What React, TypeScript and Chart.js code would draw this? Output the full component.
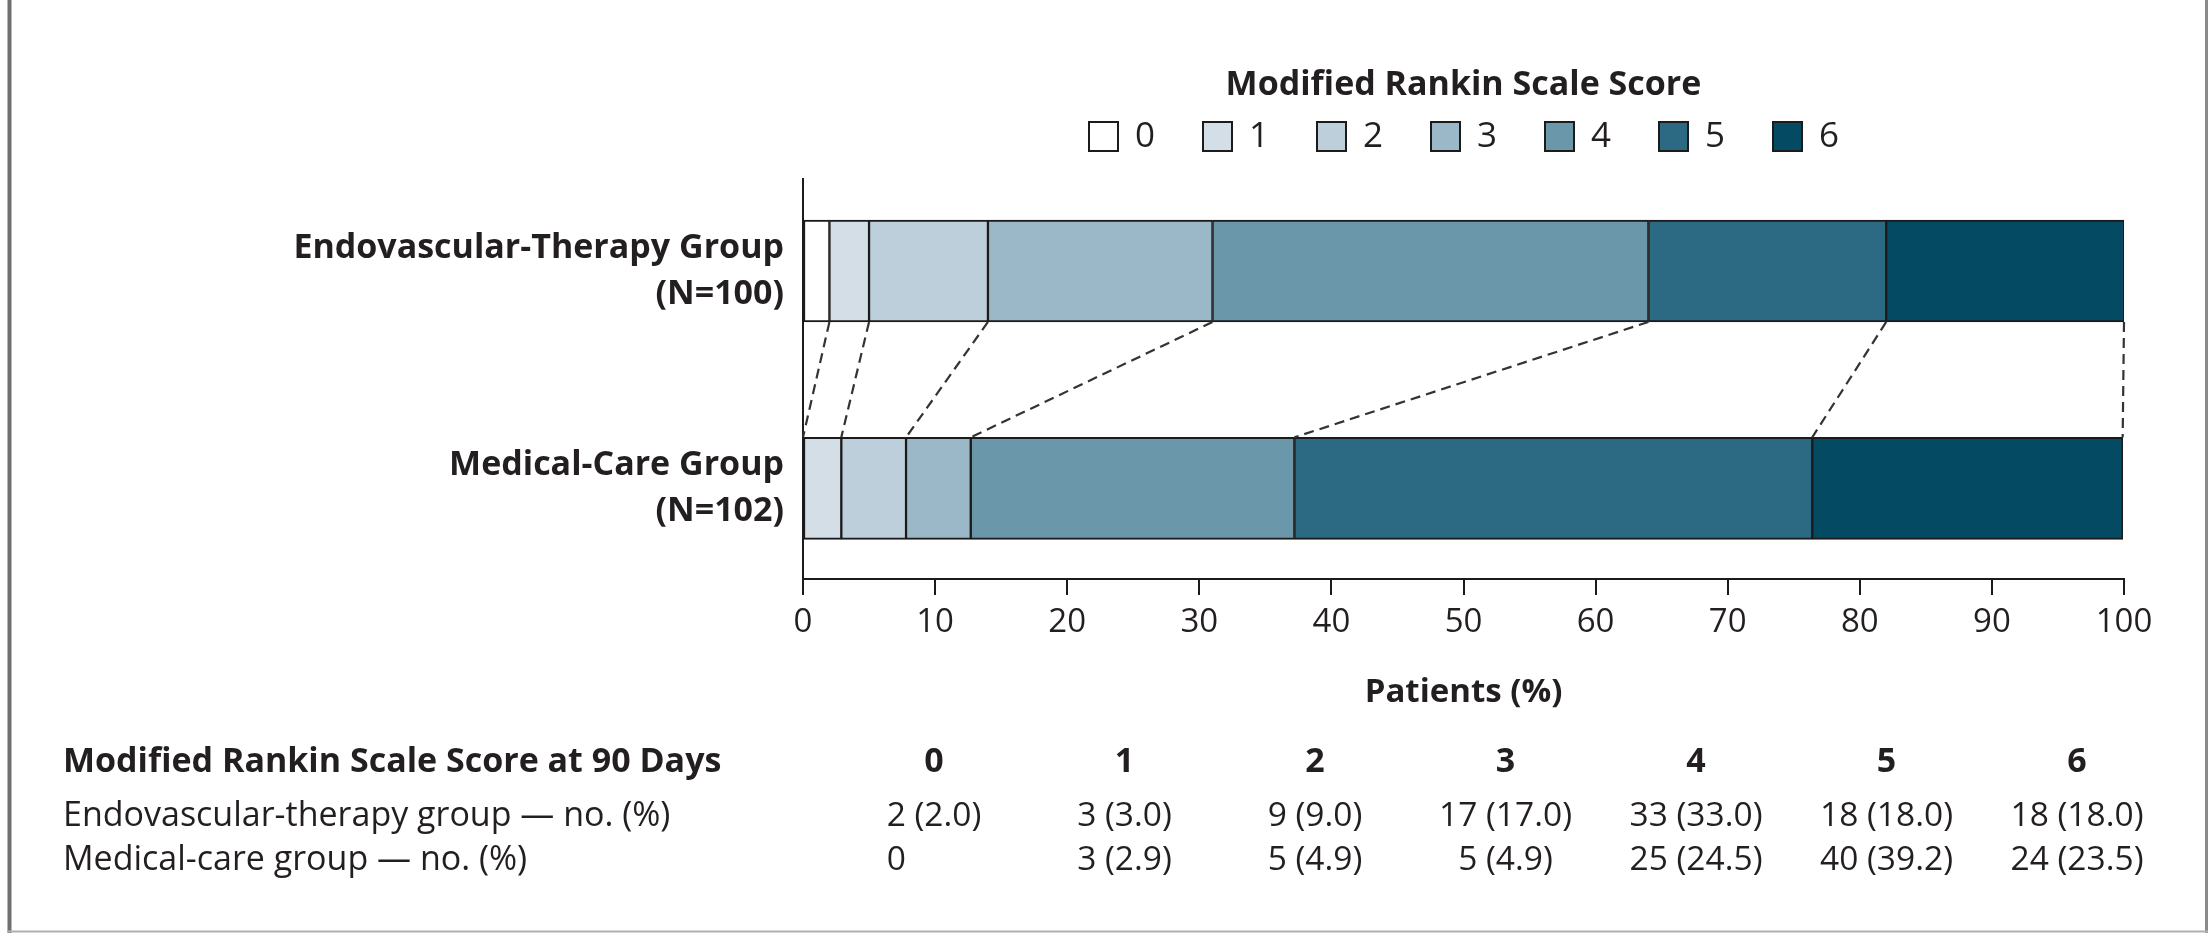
import React, { useEffect, useRef } from 'react';
import { Chart, registerables } from 'chart.js';

Chart.register(...registerables);

// ---------- data ----------
const scoreLabels = ['0', '1', '2', '3', '4', '5', '6'];
const groupLabels = [
  ['Endovascular-Therapy Group', '(N=100)'],
  ['Medical-Care Group', '(N=102)'],
];
const endoCounts = [2, 3, 9, 17, 33, 18, 18];
const endoPct = [2.0, 3.0, 9.0, 17.0, 33.0, 18.0, 18.0];
const medCounts = [0, 3, 5, 5, 25, 40, 24];
const medPct = [0, 2.9, 4.9, 4.9, 24.5, 39.2, 23.5];
const xTickValues = [0, 10, 20, 30, 40, 50, 60, 70, 80, 90, 100];
const tableRowLabels = ['Endovascular-therapy group \u2014 no. (%)', 'Medical-care group \u2014 no. (%)'];
const tableHeader = 'Modified Rankin Scale Score at 90 Days';
const legendTitle = 'Modified Rankin Scale Score';
const xAxisTitle = 'Patients (%)';

// ---------- style ----------
const colors = ['#ffffff', '#d3dee6', '#bccfdb', '#9bb8c9', '#6a97aa', '#2b6a82', '#044a62'];
const FONT = "'Open Sans', 'Noto Sans', sans-serif";
const TEXT = '#231f20';
const LINE = '#1b1b1b';
const Y_MIN = -0.423;
const Y_MAX = 1.417;

const fmtCell = (n: number, p: number) => (n === 0 ? '0' : `${n} (${p.toFixed(1)})`);

const overlayPlugin = {
  id: 'overlay',
  beforeDraw(chart: any) {
    const ctx = chart.ctx;
    ctx.save();
    ctx.fillStyle = '#ffffff';
    ctx.fillRect(0, 0, chart.width, chart.height);
    ctx.restore();
  },
  afterDatasetsDraw(chart: any) {
    const ctx = chart.ctx;
    const xs = chart.scales.x;
    const meta0 = chart.getDatasetMeta(0);
    const topBar = meta0.data[0];
    const botBar = meta0.data[1];
    const y1 = topBar.y + topBar.height / 2;
    const y2 = botBar.y - botBar.height / 2;
    let cTop = 0;
    let cBot = 0;
    ctx.save();
    ctx.strokeStyle = '#333333';
    ctx.lineWidth = 2.2;
    ctx.setLineDash([10, 6]);
    for (let k = 0; k < endoPct.length; k++) {
      cTop += endoPct[k];
      cBot += medPct[k];
      ctx.beginPath();
      ctx.moveTo(xs.getPixelForValue(cTop), y1);
      ctx.lineTo(xs.getPixelForValue(cBot), y2);
      ctx.stroke();
    }
    ctx.restore();
  },
  afterDraw(chart: any) {
    const ctx = chart.ctx;
    const ca = chart.chartArea;
    ctx.save();
    // frame
    ctx.strokeStyle = '#707070';
    ctx.lineWidth = 4;
    ctx.beginPath();
    ctx.moveTo(9.5, 0);
    ctx.lineTo(9.5, 933);
    ctx.stroke();
    ctx.strokeStyle = '#8a8a8a';
    ctx.lineWidth = 3;
    ctx.beginPath();
    ctx.moveTo(2206.5, 0);
    ctx.lineTo(2206.5, 933);
    ctx.stroke();
    ctx.strokeStyle = '#b0b0b0';
    ctx.lineWidth = 2;
    ctx.beginPath();
    ctx.moveTo(8, 931.5);
    ctx.lineTo(2208, 931.5);
    ctx.stroke();

    // legend
    const cx = (ca.left + ca.right) / 2;
    ctx.fillStyle = TEXT;
    ctx.textBaseline = 'alphabetic';
    ctx.textAlign = 'center';
    ctx.font = `bold 34px ${FONT}`;
    ctx.fillText(legendTitle, cx, 95);
    const pitch = 114;
    const box = 31;
    const gap = 16;
    ctx.font = `35px ${FONT}`;
    const lastW = ctx.measureText(scoreLabels[scoreLabels.length - 1]).width;
    const totalW = (scoreLabels.length - 1) * pitch + box + gap + lastW;
    const x0 = cx - totalW / 2;
    for (let k = 0; k < scoreLabels.length; k++) {
      const bx = Math.round(x0 + k * pitch);
      ctx.fillStyle = colors[k];
      ctx.fillRect(bx, 121, box, box);
      ctx.strokeStyle = LINE;
      ctx.lineWidth = 2;
      ctx.strokeRect(bx + 1, 122, box - 2, box - 2);
      ctx.fillStyle = TEXT;
      ctx.textAlign = 'left';
      ctx.fillText(scoreLabels[k], bx + box + gap, 147);
    }

    // table
    const colStart = 934;
    const colStep = 190.5;
    const labelX = 63;
    ctx.fillStyle = TEXT;
    ctx.font = `bold 34px ${FONT}`;
    ctx.textAlign = 'left';
    ctx.fillText(tableHeader, labelX, 772);
    ctx.textAlign = 'center';
    for (let k = 0; k < scoreLabels.length; k++) {
      ctx.fillText(scoreLabels[k], colStart + k * colStep, 772);
    }
    const rows = [
      endoCounts.map((n, i) => fmtCell(n, endoPct[i])),
      medCounts.map((n, i) => fmtCell(n, medPct[i])),
    ];
    const rowY = [826, 870];
    rows.forEach((cells, r) => {
      ctx.font = `34px ${FONT}`;
      ctx.textAlign = 'left';
      ctx.fillText(tableRowLabels[r], labelX, rowY[r]);
      ctx.font = `33.5px ${FONT}`;
      cells.forEach((txt, k) => {
        const cxk = colStart + k * colStep;
        if (txt.indexOf('(') === -1) {
          const maxW = Math.max(...rows.map((rw) => ctx.measureText(rw[k]).width));
          ctx.textAlign = 'left';
          ctx.fillText(txt, cxk - maxW / 2, rowY[r]);
        } else {
          ctx.textAlign = 'center';
          ctx.fillText(txt, cxk, rowY[r]);
        }
      });
    });
    ctx.restore();
  },
};

export default function App() {
  const ref = useRef<HTMLCanvasElement | null>(null);
  useEffect(() => {
    document.body.style.margin = '0';
    const canvas = ref.current;
    if (!canvas) return;
    const datasets = scoreLabels.map((s, k) => ({
      label: s,
      data: [
        { x: endoPct[k], y: 0 },
        { x: medPct[k], y: 1 },
      ],
      backgroundColor: colors[k],
      borderColor: LINE,
      borderWidth: { top: 2, bottom: 2, left: 1.5, right: 1.5 },
      borderSkipped: false,
      barThickness: 102,
      stack: 'all',
    }));
    const chart = new Chart(canvas, {
      type: 'bar',
      data: { datasets },
      plugins: [overlayPlugin],
      options: {
        indexAxis: 'y',
        responsive: false,
        maintainAspectRatio: false,
        devicePixelRatio: 1,
        animation: false,
        events: [],
        layout: { padding: { left: 0, right: 84, top: 179, bottom: 229 } },
        plugins: { legend: { display: false }, tooltip: { enabled: false } },
        scales: {
          x: {
            type: 'linear',
            stacked: true,
            min: 0,
            max: 100,
            afterBuildTicks: (scale: any) => {
              scale.ticks = xTickValues.map((v) => ({ value: v }));
            },
            afterFit: (scale: any) => {
              scale.height = 125;
            },
            grid: { drawOnChartArea: false, drawTicks: true, tickLength: 16, color: LINE, lineWidth: 2 },
            border: { display: true, color: LINE, width: 2 },
            ticks: { padding: 8, color: TEXT, font: { family: FONT, size: 33 }, maxRotation: 0, autoSkip: false },
            title: {
              display: true,
              text: xAxisTitle,
              color: TEXT,
              padding: { top: 0, bottom: -8 },
              font: { family: FONT, size: 33, weight: 'bold' },
            },
          },
          y: {
            type: 'linear',
            stacked: true,
            reverse: true,
            offset: false,
            min: Y_MIN,
            max: Y_MAX,
            afterBuildTicks: (scale: any) => {
              scale.ticks = groupLabels.map((_, i) => ({ value: i }));
              scale.min = Y_MIN;
              scale.max = Y_MAX;
            },
            afterFit: (scale: any) => {
              scale.width = 803;
            },
            grid: { display: false, drawTicks: false, offset: false },
            border: { display: true, color: LINE, width: 2 },
            ticks: {
              padding: 19,
              color: TEXT,
              autoSkip: false,
              font: { family: FONT, size: 34, weight: 'bold', lineHeight: '46px' },
              callback: (v: any) => groupLabels[v as number] ?? '',
            },
          },
        },
      } as any,
    });
    return () => chart.destroy();
  }, []);
  return (
    <div style={{ position: 'absolute', left: 0, top: 0, width: 2208, height: 933, background: '#fff' }}>
      <canvas ref={ref} width={2208} height={933} style={{ width: 2208, height: 933, display: 'block' }} />
    </div>
  );
}
